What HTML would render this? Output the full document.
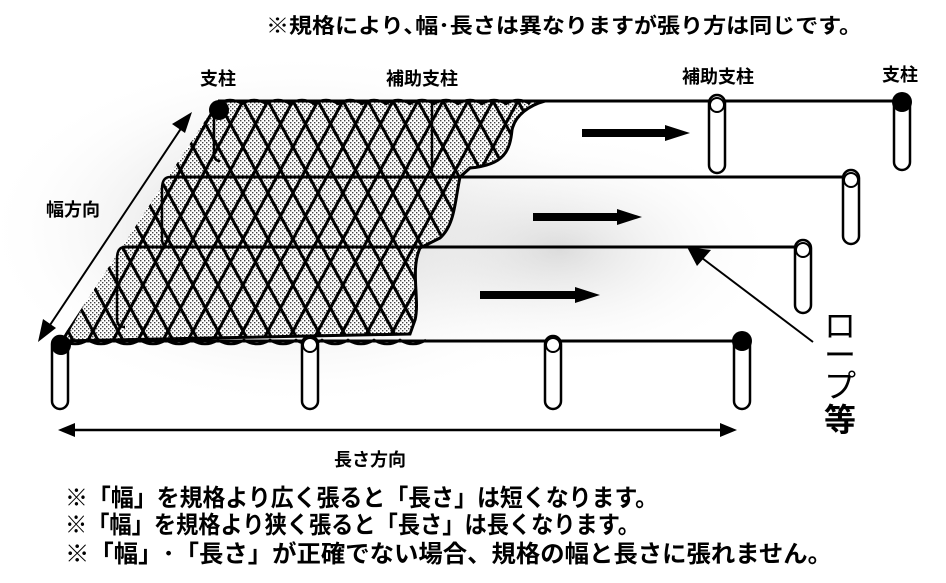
<!DOCTYPE html>
<html><head><meta charset="utf-8">
<style>
html,body{margin:0;padding:0;background:#fff;}
svg{display:block;}
text{font-family:"Liberation Sans","Noto Sans CJK JP",sans-serif;font-weight:bold;fill:#000;}
</style></head>
<body>
<svg width="946" height="583" viewBox="0 0 946 583" xmlns="http://www.w3.org/2000/svg">
<defs>
  <pattern id="dots" width="4" height="4" patternUnits="userSpaceOnUse">
    <rect width="4" height="4" fill="#fff"/>
    <rect x="0" y="0" width="1.4" height="1.4" fill="#444"/>
    <rect x="2" y="2" width="1.4" height="1.4" fill="#444"/>
  </pattern>
  <pattern id="mesh" width="25" height="46" patternUnits="userSpaceOnUse" x="218" y="101">
    <path d="M0 0 L25 46 M25 0 L0 46 M-12.5 23 L0 46 M12.5 -23 L0 0 M12.5 -23 L25 0 M12.5 69 L25 46" stroke="#000" stroke-width="3" fill="none"/>
  </pattern>
  <clipPath id="netclip">
    <path d="M218 101 L545 101 C530 105 515 115 512 130 C510 150 505 165 470 168 L460 177 C455 200 455 225 440 238 L420 248 C410 270 420 300 415 320 L410 334 L60 341 Z"/>
  </clipPath>
  <radialGradient id="halo" cx="0.5" cy="0.5" r="0.5">
    <stop offset="0" stop-color="#aaa"/><stop offset="1" stop-color="#fff" stop-opacity="0"/>
  </radialGradient>
</defs>

<ellipse cx="300" cy="230" rx="320" ry="180" fill="url(#halo)" opacity="0.7"/>
<ellipse cx="560" cy="250" rx="220" ry="120" fill="url(#halo)" opacity="0.4"/>

<g clip-path="url(#netclip)">
  <rect x="40" y="95" width="520" height="255" fill="url(#dots)"/>
  <rect x="40" y="95" width="520" height="255" fill="url(#mesh)"/>
</g>
<path d="M218 101 L545 101 C530 105 515 115 512 130 C510 150 505 165 470 168 L460 177 C455 200 455 225 440 238 L420 248 C410 270 420 300 415 320 L410 334 L60 341" fill="none" stroke="#000" stroke-width="3"/>
<path d="M218 104 q12 -8 24 0 q12 -8 24 0 q12 -8 24 0 q12 -8 24 0 q12 -8 24 0 q12 -8 24 0 q12 -8 24 0 q12 -8 24 0 q12 -8 24 0 q12 -8 24 0 q12 -8 24 0 q12 -8 24 0 q12 -8 24 0" fill="none" stroke="#000" stroke-width="2.5"/>
<path d="M62 340 q13 8 26 0 q13 8 26 0 q13 8 26 0 q13 8 26 0 q13 8 26 0 q13 8 26 0 q13 8 26 0 q13 8 26 0 q13 8 26 0 q13 8 26 0 q13 8 26 0 q13 8 26 0 q13 8 26 0 q13 8 26 0" fill="none" stroke="#000" stroke-width="2.5"/>

<g stroke="#000" stroke-width="3" fill="none">
  <line x1="218" y1="101" x2="902" y2="101"/>
  <line x1="170" y1="177" x2="851" y2="177"/>
  <line x1="125" y1="247" x2="803" y2="247"/>
  <line x1="60" y1="341" x2="742" y2="341"/>
</g>
<g stroke="#000" stroke-width="2.5" fill="none">
  <path d="M170 177 q-8 0 -8 12 v50 q0 8 8 8"/>
  <path d="M125 247 q-8 0 -8 12 v60 q0 8 8 8"/>
  <path d="M214 108 v45 q0 8 6 8"/>
  <path d="M432 101 v70"/>
</g>

<g stroke="#000" stroke-width="2.5" fill="#fff">
  <rect x="709" y="95" width="16" height="78" rx="8"/>
  <rect x="894" y="96" width="16" height="74" rx="8"/>
  <rect x="843" y="170" width="16" height="74" rx="8"/>
  <rect x="795" y="240" width="16" height="73" rx="8"/>
  <rect x="52" y="336" width="16" height="73" rx="8"/>
  <rect x="302" y="336" width="16" height="73" rx="8"/>
  <rect x="545" y="336" width="16" height="73" rx="8"/>
  <rect x="734" y="336" width="16" height="73" rx="8"/>
</g>
<g stroke="#000" stroke-width="2" fill="none">
  <ellipse cx="717" cy="105" rx="7" ry="7"/>
  <ellipse cx="851" cy="180" rx="7" ry="7"/>
  <ellipse cx="803" cy="250" rx="7" ry="7"/>
  <ellipse cx="310" cy="345" rx="7" ry="7"/>
  <ellipse cx="553" cy="345" rx="7" ry="7"/>
</g>
<g fill="#000">
  <circle cx="902" cy="102" r="10"/>
  <circle cx="219" cy="110" r="10"/>
  <circle cx="742" cy="341" r="10"/>
  <circle cx="61" cy="345" r="10"/>
</g>

<g fill="#000">
  <path d="M582 129 L665 129 L665 125 L690 133 L665 141 L665 137 L582 137 Z"/>
  <path d="M533 213 L617 213 L617 209 L642 217 L617 225 L617 221 L533 221 Z"/>
  <path d="M480 291 L575 291 L575 287 L600 295 L575 303 L575 299 L480 299 Z"/>
</g>

<line x1="48" y1="328" x2="184" y2="124" stroke="#000" stroke-width="2"/>
<path d="M192 112 L172 124 L185 133 Z" fill="#000"/>
<path d="M38 342 L43 319 L56 328 Z" fill="#000"/>
<line x1="70" y1="430" x2="725" y2="430" stroke="#000" stroke-width="2.5"/>
<path d="M58 430 L75 423 L75 437 Z" fill="#000"/>
<path d="M737 430 L720 423 L720 437 Z" fill="#000"/>

<line x1="813" y1="342" x2="702" y2="258" stroke="#000" stroke-width="2"/>
<path d="M687 247 L711 250 L697 266 Z" fill="#000"/>

<text x="218" y="85" font-size="18" text-anchor="middle">支柱</text>
<text x="422" y="85" font-size="18" text-anchor="middle">補助支柱</text>
<text x="718" y="83" font-size="18" text-anchor="middle">補助支柱</text>
<text x="900" y="81" font-size="18" text-anchor="middle">支柱</text>
<text x="73" y="216" font-size="18" text-anchor="middle">幅方向</text>
<text x="370" y="466" font-size="18" text-anchor="middle">長さ方向</text>
<g font-size="32">
  <text x="840" y="337" text-anchor="middle" style="font-weight:normal">ロ</text>
  <text x="840" y="366" text-anchor="middle" style="font-weight:normal">ー</text>
  <text x="840" y="397" text-anchor="middle" style="font-weight:normal">プ</text>
  <text x="840" y="431" text-anchor="middle">等</text>
</g>

<text x="266" y="33" font-size="21" textLength="596" lengthAdjust="spacingAndGlyphs">※規格により､幅･長さは異なりますが張り方は同じです。</text>
<text x="65" y="506" font-size="24" textLength="593" lengthAdjust="spacingAndGlyphs">※「幅」を規格より広く張ると「長さ」は短くなります。</text>
<text x="65" y="533" font-size="24" textLength="575" lengthAdjust="spacingAndGlyphs">※「幅」を規格より狭く張ると「長さ」は長くなります。</text>
<text x="65" y="562" font-size="24" textLength="767" lengthAdjust="spacingAndGlyphs">※「幅」･「長さ」が正確でない場合、規格の幅と長さに張れません。</text>
</svg>
</body></html>
